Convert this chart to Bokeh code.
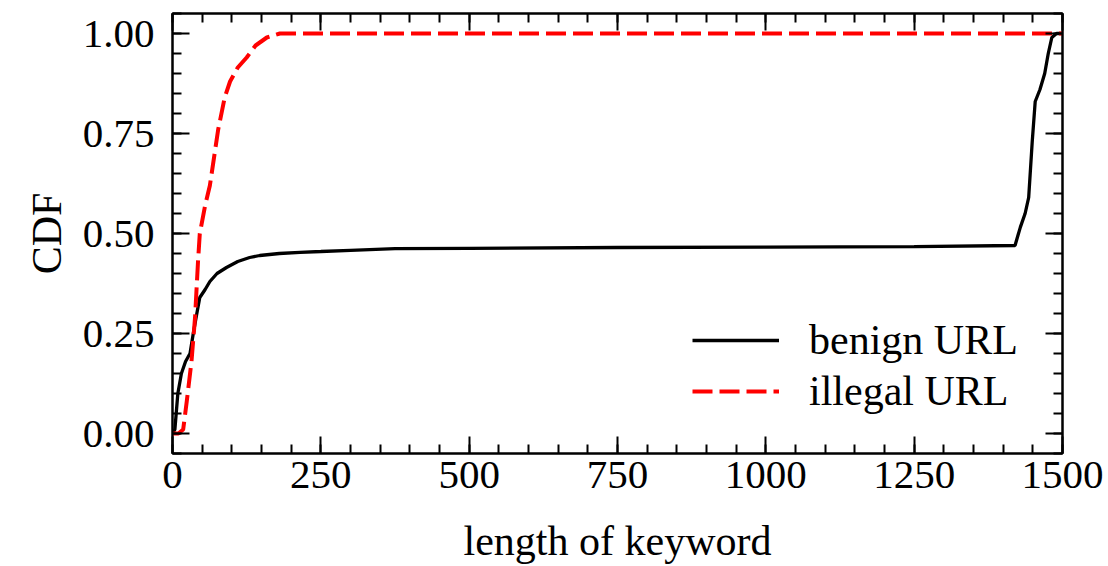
from bokeh.plotting import figure
from bokeh.models import (LinearAxis, Range1d, FixedTicker, Legend, LegendItem,
                          NumeralTickFormatter, CustomJSTickFormatter)
from bokeh.embed import file_html
from bokeh.resources import INLINE

# ---- data ----
benign_x = [0, 4, 9, 15, 22, 29.5, 35, 41, 46, 55, 63, 75, 91, 110, 130, 147, 180, 215, 250, 300,
            375, 500, 750, 1000, 1250, 1420, 1429, 1437, 1443, 1449, 1454, 1462, 1470, 1476, 1482,
            1490, 1500]
benign_y = [0, 0.01, 0.10, 0.15, 0.18, 0.20, 0.25, 0.30, 0.34, 0.36, 0.38, 0.40, 0.415, 0.43, 0.44,
            0.445, 0.45, 0.453, 0.455, 0.458, 0.462, 0.463, 0.465, 0.466, 0.467, 0.47, 0.516, 0.55,
            0.59, 0.73, 0.83, 0.86, 0.90, 0.95, 0.99, 1.0, 1.0]

illegal_x = [0, 10, 18, 24, 32, 38, 43, 46, 55, 63, 77, 88, 97, 110, 125, 140, 159, 181, 250, 500,
             1000, 1500]
illegal_y = [0, 0, 0.01, 0.08, 0.18, 0.29, 0.43, 0.50, 0.57, 0.62, 0.76, 0.84, 0.88, 0.915, 0.94,
             0.97, 0.99, 1.0, 1.0, 1.0, 1.0, 1.0]

x_ticks = [0, 250, 500, 750, 1000, 1250, 1500]
y_ticks = [0.0, 0.25, 0.5, 0.75, 1.0]
x_minor = list(range(0, 1501, 50))
y_minor = [round(-0.05 + 0.05 * i, 2) for i in range(23)]

series_names = ["benign URL", "illegal URL"]

FONT = "Liberation Serif"

p = figure(width=1108, height=566, output_backend="svg", toolbar_location=None,
           x_range=Range1d(0, 1500), y_range=Range1d(-0.05, 1.05),
           x_axis_location=None, y_axis_location=None,
           min_border_left=172, min_border_right=46, min_border_top=13, min_border_bottom=113)
p.grid.visible = False
p.outline_line_color = "black"
p.outline_line_width = 2
p.background_fill_color = "white"

xt = FixedTicker(ticks=x_ticks, minor_ticks=x_minor)
yt = FixedTicker(ticks=y_ticks, minor_ticks=y_minor)


def style(ax, labels=True):
    ax.axis_line_width = 2
    ax.major_tick_line_width = 2
    ax.minor_tick_line_width = 2
    ax.major_tick_in = 17
    ax.major_tick_out = 0
    ax.minor_tick_in = 9
    ax.minor_tick_out = 0
    ax.major_label_text_font = FONT
    ax.axis_label_text_font = FONT
    ax.axis_label_text_font_style = "normal"
    ax.major_label_text_color = "black"
    ax.axis_label_text_color = "black"
    if labels:
        ax.major_label_text_font_size = "41px"
        ax.axis_label_text_font_size = "42px"
    else:
        ax.formatter = CustomJSTickFormatter(code="return ''")
        ax.major_label_text_font_size = "1px"
        ax.major_label_standoff = 0


bottom = LinearAxis(ticker=xt, axis_label="length of keyword",
                    formatter=NumeralTickFormatter(format="0"))
style(bottom)
bottom.major_label_standoff = 8
bottom.axis_label_standoff = 27
left = LinearAxis(ticker=yt, axis_label="CDF", formatter=NumeralTickFormatter(format="0.00"))
style(left)
left.major_label_standoff = 18
left.axis_label_standoff = 10
top = LinearAxis(ticker=xt)
style(top, labels=False)
right = LinearAxis(ticker=yt)
style(right, labels=False)

p.add_layout(bottom, "below")
p.add_layout(left, "left")
p.add_layout(top, "above")
p.add_layout(right, "right")

r1 = p.line(benign_x, benign_y, line_color="black", line_width=3.3)
r2 = p.line(illegal_x, illegal_y, line_color="#ff0000", line_width=4, line_dash="20 7")

legend = Legend(items=[LegendItem(label=series_names[0], renderers=[r1]),
                       LegendItem(label=series_names[1], renderers=[r2])],
                location=(520, 38), border_line_color=None, background_fill_alpha=0,
                padding=0, margin=0, spacing=3, glyph_width=87, glyph_height=40,
                label_height=40, label_standoff=30, label_text_font=FONT,
                label_text_font_size="42px", label_text_color="black")
p.add_layout(legend, "center")

open("out.html", "w").write(file_html(p, INLINE))
